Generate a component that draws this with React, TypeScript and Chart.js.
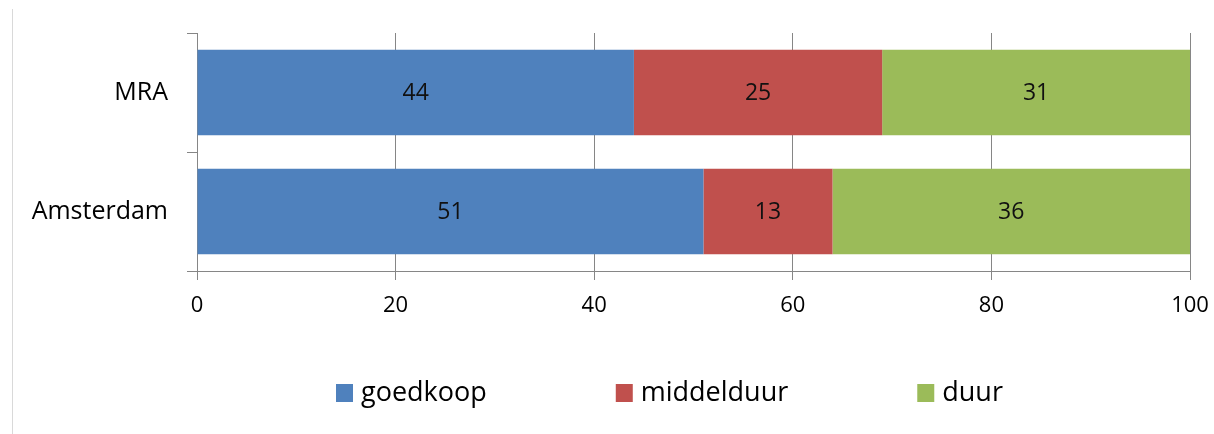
import { useEffect, useRef } from "react";
import { Chart, registerables } from "chart.js";

Chart.register(...registerables);

// Share of housing per price class (%)
const regions = ["MRA", "Amsterdam"];
const seriesNames = ["goedkoop", "middelduur", "duur"];
const goedkoop = [44, 51];
const middelduur = [25, 13];
const duur = [31, 36];
const xTicks = [0, 20, 40, 60, 80, 100];

const seriesColors = ["#4F81BD", "#C0504D", "#9BBB59"];
const axisGray = "#868686";
const FONT = "'Open Sans', 'DejaVu Sans', sans-serif";

// Value labels centred inside each bar segment
const segmentLabels = {
  id: "segmentLabels",
  afterDatasetsDraw(chart: any) {
    const ctx = chart.ctx;
    ctx.save();
    ctx.font = `23px ${FONT}`;
    ctx.fillStyle = "#111111";
    ctx.textAlign = "center";
    ctx.textBaseline = "middle";
    chart.data.datasets.forEach((ds: any, i: number) => {
      const meta = chart.getDatasetMeta(i);
      meta.data.forEach((bar: any, j: number) => {
        const { x, base, y } = bar.getProps(["x", "base", "y"], true);
        ctx.fillText(String(ds.data[j]), (x + base) / 2, y + 1);
      });
    });
    ctx.restore();
  },
};

// Legend row under the axis plus the thin frame line on the left
const legendAndFrame = {
  id: "legendAndFrame",
  beforeDraw(chart: any) {
    const ctx = chart.ctx;
    ctx.save();
    ctx.fillStyle = "#ffffff";
    ctx.fillRect(0, 0, chart.width, chart.height);
    ctx.strokeStyle = "#d9d9d9";
    ctx.lineWidth = 1;
    ctx.beginPath();
    ctx.moveTo(12.5, 9);
    ctx.lineTo(12.5, chart.height);
    ctx.stroke();
    ctx.restore();
  },
  afterDraw(chart: any) {
    const ctx = chart.ctx;
    ctx.save();
    ctx.font = `27px ${FONT}`;
    ctx.textBaseline = "middle";
    ctx.textAlign = "left";
    const box = 17;
    const boxGap = 8;
    const itemGap = 129;
    const items = chart.data.datasets.map((ds: any) => ({
      label: ds.label,
      color: ds.backgroundColor,
      w: box + boxGap + ctx.measureText(ds.label).width,
    }));
    const total =
      items.reduce((s: number, it: any) => s + it.w, 0) + itemGap * (items.length - 1);
    let x = Math.round(669 - total / 2);
    const cy = 393;
    items.forEach((it: any) => {
      ctx.fillStyle = it.color;
      ctx.fillRect(x, cy - 9, box, 18);
      ctx.fillStyle = "#000000";
      ctx.fillText(it.label, x + box + boxGap, cy);
      x += it.w + itemGap;
    });
    ctx.restore();
  },
};

export default function App() {
  const canvasRef = useRef<HTMLCanvasElement | null>(null);

  useEffect(() => {
    const canvas = canvasRef.current;
    if (!canvas) return;
    const series = [goedkoop, middelduur, duur];
    const chart = new Chart(canvas, {
      type: "bar",
      data: {
        labels: regions,
        datasets: seriesNames.map((name, i) => ({
          label: name,
          data: series[i],
          backgroundColor: seriesColors[i],
          borderWidth: 0,
          barPercentage: 0.72,
          categoryPercentage: 1,
        })),
      },
      options: {
        indexAxis: "y",
        responsive: false,
        animation: false,
        layout: { padding: { top: 33, right: 24, left: 0, bottom: 0 } },
        plugins: {
          legend: { display: false },
          tooltip: { enabled: false },
          title: { display: false },
        },
        scales: {
          x: {
            stacked: true,
            min: 0,
            max: 100,
            afterBuildTicks: (scale: any) => {
              scale.ticks = xTicks.map((v) => ({ value: v }));
            },
            afterFit: (scale: any) => {
              scale.height = 163;
              scale.paddingLeft = 0;
              scale.paddingRight = 0;
            },
            grid: {
              color: axisGray,
              lineWidth: 1,
              tickLength: 9,
              drawTicks: true,
            },
            border: { display: true, color: axisGray, width: 1 },
            ticks: {
              color: "#000000",
              font: { family: FONT, size: 22 },
              padding: 13,
              maxRotation: 0,
            },
          },
          y: {
            stacked: true,
            afterFit: (scale: any) => {
              scale.width = 197;
              scale.paddingTop = 0;
              scale.paddingBottom = 0;
            },
            grid: {
              color: axisGray,
              drawOnChartArea: false,
              drawTicks: true,
              tickLength: 10,
            },
            border: { display: true, color: axisGray, width: 1 },
            ticks: {
              color: "#000000",
              font: { family: FONT, size: 25 },
              padding: 19,
            },
          },
        },
      },
      plugins: [segmentLabels, legendAndFrame],
    });
    return () => chart.destroy();
  }, []);

  return (
    <div style={{ position: "absolute", left: 0, top: 0, width: 1214, height: 434, background: "#fff" }}>
      <canvas ref={canvasRef} width={1214} height={434} style={{ display: "block" }} />
    </div>
  );
}
